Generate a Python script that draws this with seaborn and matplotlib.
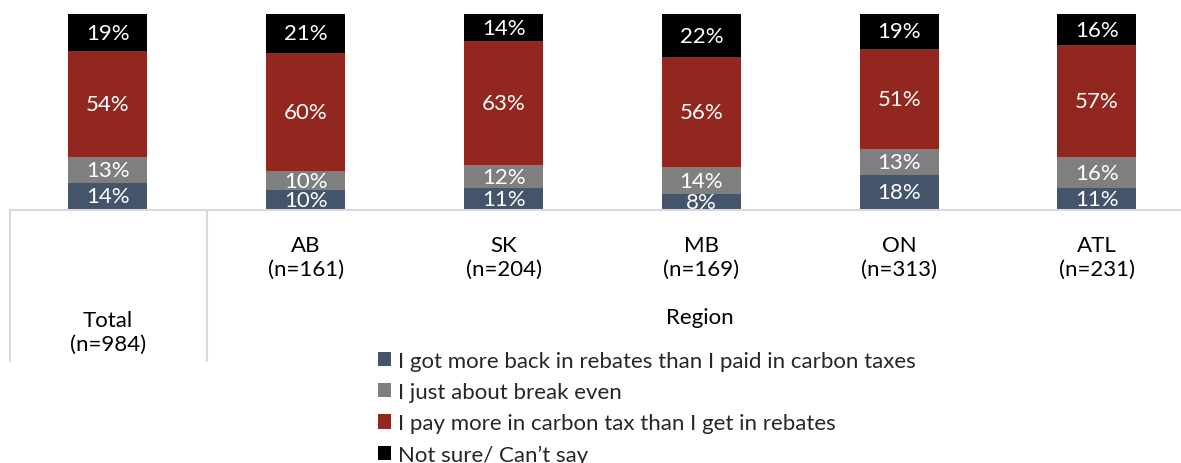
import numpy as np
import pandas as pd
import matplotlib
matplotlib.use("Agg")
import matplotlib.pyplot as plt
from matplotlib.patches import Patch
from matplotlib.lines import Line2D
import seaborn as sns

# Survey results by group (percent)
groups = ["Total", "AB", "SK", "MB", "ON", "ATL"]
sample_sizes = [984, 161, 204, 169, 313, 231]
got_more_back = [14, 10, 11, 8, 18, 11]
break_even = [13, 10, 12, 14, 13, 16]
pay_more = [54, 60, 63, 56, 51, 57]
not_sure = [19, 21, 14, 22, 19, 16]

series_names = [
    "I got more back in rebates than I paid in carbon taxes",
    "I just about break even",
    "I pay more in carbon tax than I get in rebates",
    "Not sure/ Can\u2019t say",
]
series_values = [got_more_back, break_even, pay_more, not_sure]
series_colors = ["#44546A", "#7F7F7F", "#922720", "#000000"]

sns.set_theme(style="white")
plt.rcParams["font.family"] = ["Lato", "DejaVu Sans"]

FS = 16

W, H = 1181, 464
fig = plt.figure(figsize=(W / 100, H / 100), dpi=100)

def fx(px):
    return px / W

def fy(py):
    return 1 - py / H

ax = fig.add_axes([fx(10), fy(211), fx(1181) - fx(10), fy(15) - fy(211)])

# Stacked bars: draw cumulative totals from the top segment down
cum = np.cumsum(np.array(series_values), axis=0)
for i in range(len(series_names) - 1, -1, -1):
    sns.barplot(x=groups, y=cum[i], color=series_colors[i], width=0.40,
                saturation=1, ax=ax, edgecolor="none", linewidth=0)

ax.set_ylim(0, 100)
ax.set_xlim(-0.495, 5.425)

# Segment value labels
for i, vals in enumerate(series_values):
    bottoms = cum[i] - np.array(vals)
    for j, v in enumerate(vals):
        ax.text(j, bottoms[j] + v / 2, f"{v}%", ha="center", va="center",
                color="white", fontsize=FS)

ax.set_xticks([])
ax.set_yticks([])
ax.set_xlabel("")
ax.set_ylabel("")
for s in ["top", "left", "right"]:
    ax.spines[s].set_visible(False)
ax.spines["bottom"].set_color("#D9D9D9")
ax.spines["bottom"].set_linewidth(1.5)

# Category table beneath the bars
line_kw = dict(color="#D9D9D9", linewidth=1.5, transform=fig.transFigure)
fig.add_artist(Line2D([fx(10), fx(10)], [fy(211), fy(362)], **line_kw))
fig.add_artist(Line2D([fx(207), fx(207)], [fy(211), fy(362)], **line_kw))

trans = matplotlib.transforms.blended_transform_factory(ax.transData, fig.transFigure)
for j, (g, n) in enumerate(zip(groups, sample_sizes)):
    y = fy(333) if j == 0 else fy(258)
    ax.text(j, y, f"{g}\n(n={n})", ha="center", va="center", transform=trans,
            fontsize=FS, color="#000000", linespacing=1.25)
fig.text(fx(700), fy(318), "Region", ha="center", va="center",
         fontsize=FS, color="#000000")

handles = [Patch(facecolor=c, edgecolor="none") for c in series_colors]
fig.legend(handles, series_names, loc="upper left",
           bbox_to_anchor=(fx(367), fy(341)), frameon=False,
           fontsize=FS, handlelength=0.6, handleheight=0.6,
           handletextpad=0.3, labelspacing=0.5, borderpad=0)

fig.savefig("out.png", dpi=100)
